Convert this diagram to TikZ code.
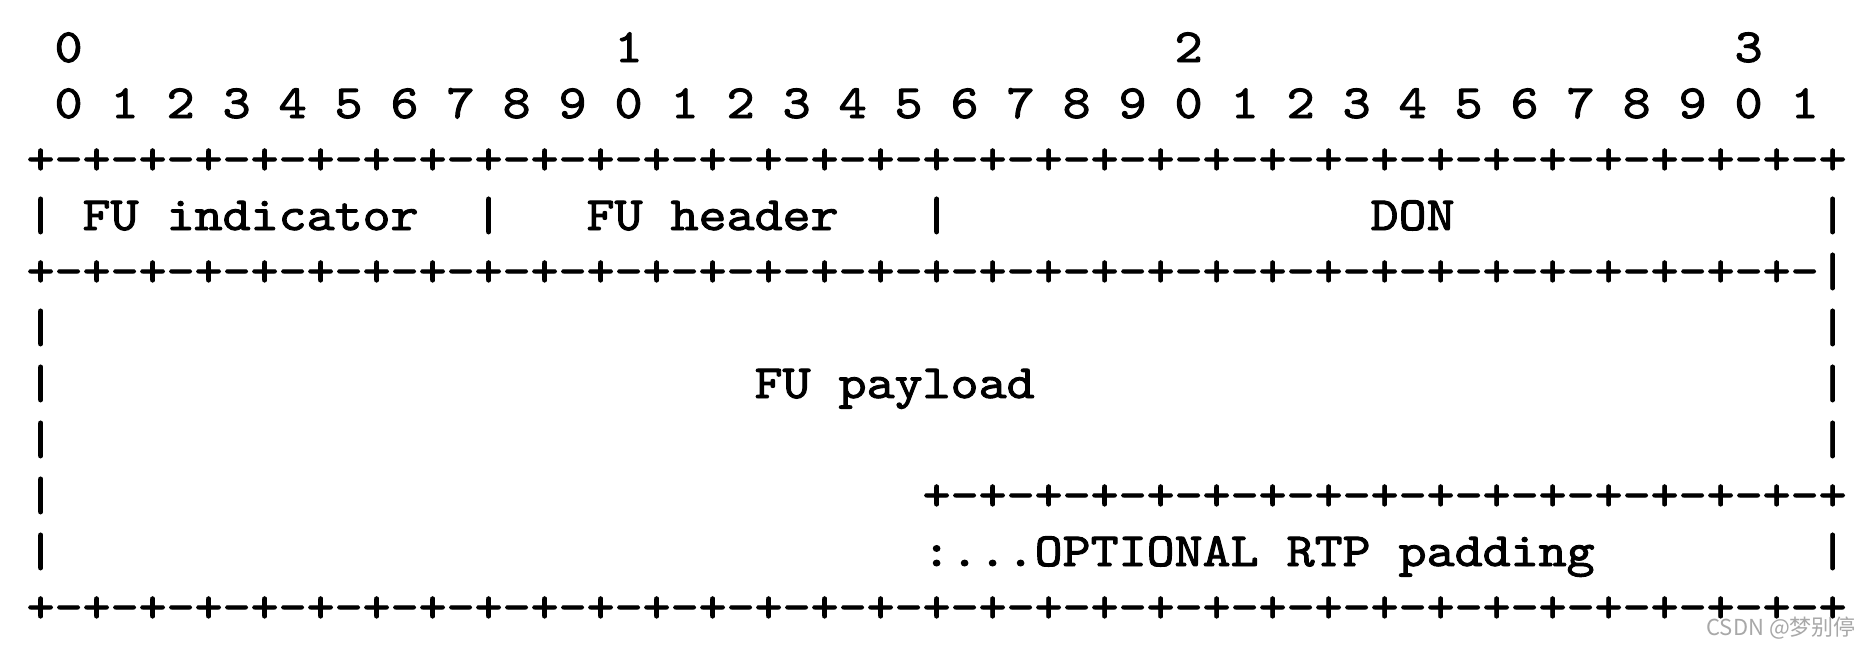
\documentclass[tikz,border=0pt]{standalone}
\usepackage{fontspec}
\newfontfamily\asc{lmmono10-regular.otf}[FakeBold=2,FakeStretch=1.12]
\newfontfamily\cjk{Noto Sans CJK SC}
\definecolor{wm}{HTML}{A8A8A8}
\tikzset{
  txt/.style={anchor=base west, inner sep=0pt, outer sep=0pt,
    font=\asc\fontsize{47.62pt}{56pt}\selectfont, text=black},
}
% segment: name, column, row, text
\newcommand\seg[4]{\node[txt] (#1) at ({26.6+28*#2},{62+56*#3}) {#4};}
\begin{document}
\begin{tikzpicture}[x=1pt,y=-1pt]
\useasboundingbox[fill=white] (0,0) rectangle (1870,646);
% row 0
\seg{h0}{1}{0}{0}
\seg{h1}{21}{0}{1}
\seg{h2}{41}{0}{2}
\seg{h3}{61}{0}{3}
% row 1
\seg{bits}{1}{1}{0 1 2 3 4 5 6 7 8 9 0 1 2 3 4 5 6 7 8 9 0 1 2 3 4 5 6 7 8 9 0 1}
% row 2
\seg{top}{0}{2}{+-+-+-+-+-+-+-+-+-+-+-+-+-+-+-+-+-+-+-+-+-+-+-+-+-+-+-+-+-+-+-+-+}
% row 3
\seg{b3a}{0}{3}{|}
\seg{fui}{2}{3}{FU indicator}
\seg{b3b}{16}{3}{|}
\seg{fuh}{20}{3}{FU header}
\seg{b3c}{32}{3}{|}
\seg{don}{48}{3}{DON}
\seg{b3d}{64}{3}{|}
% row 4
\seg{mid}{0}{4}{+-+-+-+-+-+-+-+-+-+-+-+-+-+-+-+-+-+-+-+-+-+-+-+-+-+-+-+-+-+-+-+-|}
% row 5
\seg{b5a}{0}{5}{|}
\seg{b5b}{64}{5}{|}
% row 6
\seg{b6a}{0}{6}{|}
\seg{fup}{26}{6}{FU payload}
\seg{b6b}{64}{6}{|}
% row 7
\seg{b7a}{0}{7}{|}
\seg{b7b}{64}{7}{|}
% row 8
\seg{b8a}{0}{8}{|}
\seg{pad}{32}{8}{+-+-+-+-+-+-+-+-+-+-+-+-+-+-+-+-+}
% row 9
\seg{b9a}{0}{9}{|}
\seg{opt}{32}{9}{:...OPTIONAL RTP padding}
\seg{b9b}{64}{9}{|}
% row 10
\seg{bot}{0}{10}{+-+-+-+-+-+-+-+-+-+-+-+-+-+-+-+-+-+-+-+-+-+-+-+-+-+-+-+-+-+-+-+-+}
% watermark
\node[anchor=east, inner sep=0pt, font=\cjk\fontsize{22pt}{24pt}\selectfont, text=wm] (wmk) at (1856,628) {CSDN @梦别停};
\end{tikzpicture}
\end{document}
